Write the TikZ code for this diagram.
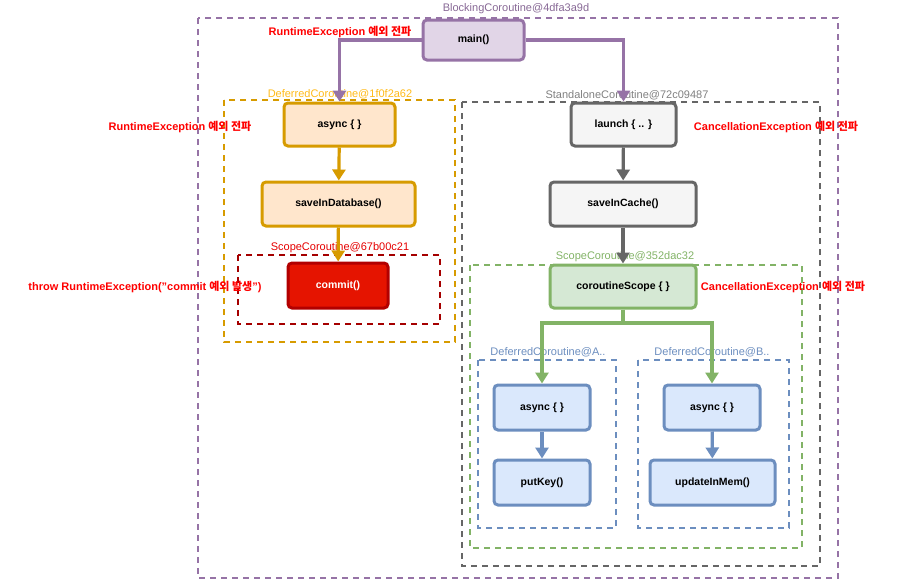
\documentclass[tikz,border=0pt]{standalone}
\usepackage{fontspec}
\setmainfont{Liberation Sans}
\newfontfamily\kr{Noto Sans CJK KR}
\usetikzlibrary{arrows.meta}
\definecolor{pB}{HTML}{9673A6}\definecolor{pF}{HTML}{E1D5E7}
\definecolor{oB}{HTML}{D79B00}\definecolor{oF}{HTML}{FFE6CC}
\definecolor{gB}{HTML}{666666}\definecolor{gF}{HTML}{F5F5F5}
\definecolor{nB}{HTML}{82B366}\definecolor{nF}{HTML}{D5E8D4}
\definecolor{bB}{HTML}{6C8EBF}\definecolor{bF}{HTML}{DAE8FC}
\definecolor{rB}{HTML}{B20000}\definecolor{rF}{HTML}{E51400}
\definecolor{dR}{HTML}{A50000}
\begin{document}
\begin{tikzpicture}[x=1pt,y=-1pt,font=\bfseries\fontsize{10.5}{12}\selectfont,
 box/.style={draw,line width=3pt,rounded corners=4pt,align=center},
 frame/.style={dashed,line width=1.5pt,dash pattern=on 6pt off 5pt},
 lbl/.style={font=\fontsize{11}{12}\selectfont},
 red/.style={text=red,font=\fontsize{11}{12}\selectfont\bfseries},
 arr/.style={line width=3.2pt,-{Triangle[length=11pt,width=13pt]}}]
\useasboundingbox (0,0) rectangle (900,581);
% frames
\draw[frame,pB] (198,18) rectangle (838,578);
\draw[frame,oB] (224,100) rectangle (455,342);
\draw[frame,dR] (238,255) rectangle (440,324);
\draw[frame,gB] (462,102) rectangle (820,566);
\draw[frame,nB] (470,265) rectangle (802,548);
\draw[frame,bB] (478,360) rectangle (616,528);
\draw[frame,bB] (638,360) rectangle (789,528);
% nodes
\node[box,draw=pB,fill=pF,minimum width=101pt,minimum height=40pt] (main) at (473.5,40) {main()};
\node[box,draw=oB,fill=oF,minimum width=111pt,minimum height=43pt] (as1) at (339.5,124.5) {async \{ \}};
\node[box,draw=oB,fill=oF,minimum width=153pt,minimum height=44pt] (sdb) at (338.5,204) {saveInDatabase()};
\node[box,draw=rB,fill=rF,text=white,minimum width=100pt,minimum height=45pt] (cm) at (338,285.5) {commit()};
\node[box,draw=gB,fill=gF,minimum width=105pt,minimum height=43pt] (ln) at (623.5,124.5) {launch \{ .. \}};
\node[box,draw=gB,fill=gF,minimum width=146pt,minimum height=44pt] (sic) at (623,204) {saveInCache()};
\node[box,draw=nB,fill=nF,minimum width=146pt,minimum height=43pt] (cs) at (623,286.5) {coroutineScope \{ \}};
\node[box,draw=bB,fill=bF,minimum width=96pt,minimum height=45pt] (aa) at (542,407.5) {async \{ \}};
\node[box,draw=bB,fill=bF,minimum width=96pt,minimum height=45pt] (pk) at (542,482.5) {putKey()};
\node[box,draw=bB,fill=bF,minimum width=96pt,minimum height=45pt] (ab) at (712,407.5) {async \{ \}};
\node[box,draw=bB,fill=bF,minimum width=125pt,minimum height=45pt] (um) at (712.5,482.5) {updateInMem()};
% labels
\node[lbl,text=pB!90!black] (l1) at (516,9) {BlockingCoroutine@4dfa3a9d};
\node[lbl,text=orange!60!yellow!90!white] (l2) at (340,94) {DeferredCoroutine@1f0f2a62};
\node[lbl,text=red!90!black] (l3) at (340,248) {ScopeCoroutine@67b00c21};
\node[lbl,text=gray] (l4) at (627,95) {StandaloneCoroutine@72c09487};
\node[lbl,text=nB] (l5) at (625,257) {ScopeCoroutine@352dac32};
\node[lbl,text=bB] (l6) at (548,352) {DeferredCoroutine@A..};
\node[lbl,text=bB] (l7) at (712,352) {DeferredCoroutine@B..};
\node[red] (r1) at (340,32) {RuntimeException {\kr 예외 전파}};
\node[red] (r2) at (180,127) {RuntimeException {\kr 예외 전파}};
\node[red] (r3) at (145,287) {throw RuntimeException("commit {\kr 예외 발생}")};
\node[red] (r4) at (776,127) {CancellationException {\kr 예외 전파}};
\node[red] (r5) at (783,287) {CancellationException {\kr 예외 전파}};
% arrows
\draw[arr,pB] (main.west) -| (as1.north);
\draw[arr,pB] (main.east) -| (ln.north);
\draw[arr,oB] (as1) -- (sdb);
\draw[arr,oB] (sdb) -- (cm);
\draw[arr,gB] (ln) -- (sic);
\draw[arr,gB] (sic) -- (cs);
\coordinate (j) at (623,323);
\draw[line width=3.2pt,nB] (cs.south) -- (j);
\draw[arr,nB] (j) -| (aa.north);
\draw[arr,nB] (j) -| (ab.north);
\draw[arr,bB] (aa) -- (pk);
\draw[arr,bB] (ab) -- (um);
\end{tikzpicture}
\end{document}
